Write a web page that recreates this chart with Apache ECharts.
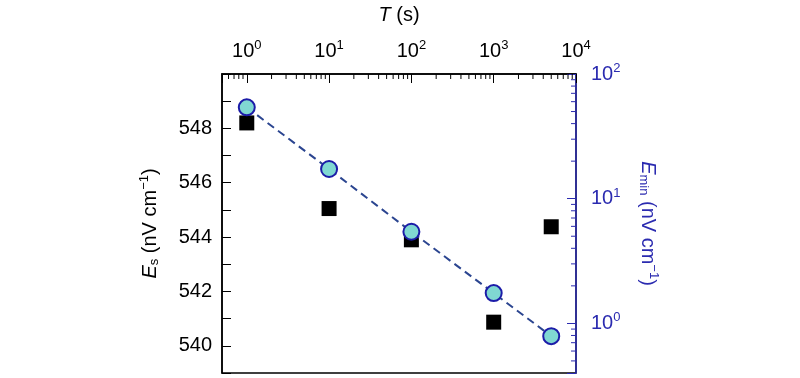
<!DOCTYPE html>
<html>
<head>
<meta charset="utf-8">
<script src="https://cdn.jsdelivr.net/npm/echarts@6/dist/echarts.min.js"></script>
<style>
  html, body { margin: 0; padding: 0; background: #fff; }
  #chart { width: 800px; height: 378px; }
</style>
</head>
<body>
<div id="chart"></div>
<script>
// 数据：时间 T (s)
var timeT = [1, 10, 100, 1000, 5000];
// 左轴 E_s (nV cm^-1)
var esValues = [548.2, 545.05, 543.9, 540.87, 544.38];
// 右轴 E_min (nV cm^-1)，对数坐标
var eminValues = [54, 17.3, 5.43, 1.75, 0.79];
// 对数轴的次刻度位置
var topMinorTicks = [0.6, 0.7, 0.8, 0.9,
    2, 3, 4, 5, 6, 7, 8, 9,
    20, 30, 40, 50, 60, 70, 80, 90,
    200, 300, 400, 500, 600, 700, 800, 900,
    2000, 3000, 4000, 5000, 6000, 7000, 8000, 9000];
var rightMinorTicks = [0.5, 0.6, 0.7, 0.8, 0.9,
    2, 3, 4, 5, 6, 7, 8, 9,
    20, 30, 40, 50, 60, 70, 80, 90];

(function () {
    var esData = timeT.map(function (t, i) { return [t, esValues[i]]; });
    var eminData = timeT.map(function (t, i) { return [t, eminValues[i]]; });
    var topTickData = topMinorTicks.map(function (v) { return [v, 550]; });
    var rightTickData = rightMinorTicks.map(function (v) { return [10000, v]; });

    var blue = '#2b2bb0';
    var font = 'Liberation Sans, Arial, sans-serif';
    var fs = 20;

    // 10 的幂次标签
    function powLabel(v) {
        var l = Math.log(v) / Math.LN10;
        var n = Math.round(l);
        if (Math.abs(l - n) > 1e-6) return '';
        return '{b|10}{sup|' + n + '}';
    }
    function richPow(color) {
        return {
            b: { fontSize: fs, fontFamily: font, color: color },
            sup: { fontSize: 13, fontFamily: font, color: color, verticalAlign: 'bottom', padding: [0, 0, 11, 0] }
        };
    }
    function richName(color) {
        return {
            i: { fontStyle: 'italic', fontSize: fs, fontFamily: font, color: color },
            sub: { fontSize: 13, fontFamily: font, color: color, verticalAlign: 'top', padding: [10, 0, 0, 0] },
            sup: { fontSize: 13, fontFamily: font, color: color, verticalAlign: 'bottom', padding: [0, 0, 11, 0] }
        };
    }

    // 次刻度（对数分布）
    function minorTick(dir, color) {
        return function (params, api) {
            var p = api.coord([api.value(0), api.value(1)]);
            var q = dir === 'down' ? [p[0], p[1] + 5] : [p[0] - 5, p[1]];
            return {
                type: 'line',
                shape: { x1: p[0], y1: p[1], x2: q[0], y2: q[1] },
                style: { stroke: color, lineWidth: 1 }
            };
        };
    }

    var myChart = echarts.init(document.getElementById('chart'));

    var option = {
        animation: false,
        textStyle: { fontFamily: font },
        grid: {
            left: 222, right: 224, top: 74, bottom: 5,
            show: true, borderColor: '#000', borderWidth: 1.5
        },
        xAxis: {
            type: 'log',
            position: 'top',
            min: 0.5,
            max: 10000,
            name: '{i|T} (s)',
            nameLocation: 'middle',
            nameGap: 49,
            nameTextStyle: { color: '#000', fontSize: fs, rich: richName('#000') },
            axisLine: { lineStyle: { color: '#000', width: 1.5 } },
            axisTick: { inside: true, length: 9, lineStyle: { color: '#000' } },
            axisLabel: {
                color: '#000', margin: 11, showMaxLabel: true, showMinLabel: true,
                formatter: powLabel, rich: richPow('#000')
            },
            splitLine: { show: false }
        },
        yAxis: [
            {
                type: 'value',
                min: 539,
                max: 550,
                interval: 1,
                name: '{i|E}{sub|s} (nV cm{sup|−1})',
                nameLocation: 'middle',
                nameRotate: 90,
                nameGap: 60,
                nameTextStyle: { color: '#000', fontSize: fs, rich: richName('#000') },
                axisLine: { show: true, lineStyle: { color: '#000', width: 1.5 } },
                axisTick: { inside: true, length: 9, lineStyle: { color: '#000' } },
                axisLabel: {
                    color: '#000', fontSize: fs, margin: 10,
                    formatter: function (v) {
                        return (v % 2 === 0 && v >= 540 && v <= 548) ? String(v) : '';
                    }
                },
                splitLine: { show: false }
            },
            {
                type: 'log',
                min: 0.4,
                max: 100,
                position: 'right',
                name: '{i|E}{sub|min} (nV cm{sup|−1})',
                nameLocation: 'middle',
                nameRotate: -90,
                nameGap: 60,
                nameTextStyle: { color: blue, fontSize: fs, rich: richName(blue) },
                axisLine: { show: true, lineStyle: { color: blue, width: 1.5 } },
                axisTick: { inside: true, length: 9, lineStyle: { color: blue } },
                axisLabel: {
                    color: blue, margin: 15, showMaxLabel: true,
                    formatter: powLabel, rich: richPow(blue)
                },
                splitLine: { show: false }
            }
        ],
        series: [
            {
                type: 'custom',
                yAxisIndex: 0,
                silent: true,
                clip: false,
                renderItem: minorTick('down', '#000'),
                data: topTickData,
                z: 1
            },
            {
                type: 'custom',
                yAxisIndex: 1,
                silent: true,
                clip: false,
                renderItem: minorTick('left', blue),
                data: rightTickData,
                z: 1
            },
            {
                name: 'Es',
                type: 'scatter',
                yAxisIndex: 0,
                symbol: 'rect',
                symbolSize: 15,
                itemStyle: { color: '#000', opacity: 1 },
                data: esData,
                z: 2
            },
            {
                name: 'Emin',
                type: 'line',
                yAxisIndex: 1,
                symbol: 'circle',
                symbolSize: 16,
                lineStyle: { color: '#2b4590', width: 2, type: [8, 5] },
                itemStyle: { color: '#80d8d2', borderColor: '#1c1ca8', borderWidth: 2 },
                data: eminData,
                z: 3
            }
        ]
    };

    myChart.setOption(option);
    window.addEventListener('resize', function () { myChart.resize(); });
})();
</script>
</body>
</html>
